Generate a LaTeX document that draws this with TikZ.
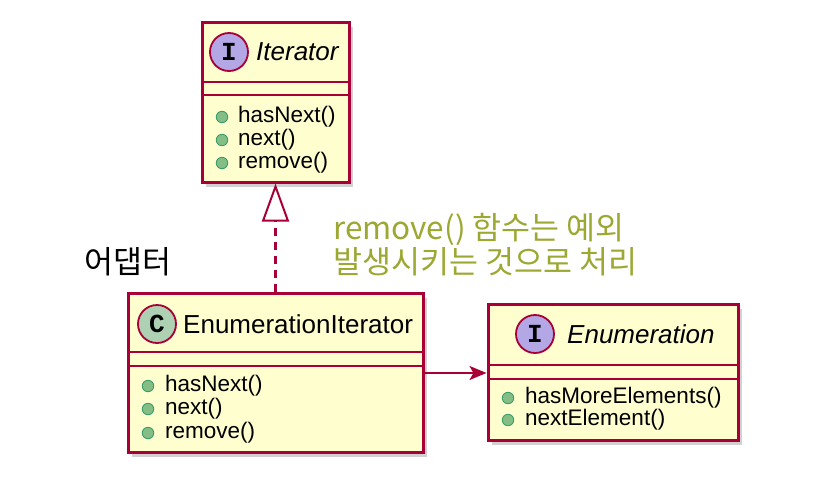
\documentclass[tikz,border=0pt]{standalone}
\usepackage{fontspec}
\setmainfont{Liberation Sans}
\newfontfamily\krfont{Noto Sans CJK KR}
\newfontfamily\monob{Liberation Mono}
\usetikzlibrary{arrows.meta,shadows}
\definecolor{umlfill}{HTML}{FEFECE}
\definecolor{umlline}{HTML}{A80036}
\definecolor{ifill}{HTML}{B4A7E5}
\definecolor{cfill}{HTML}{ADD1B2}
\definecolor{mfill}{HTML}{84BE84}
\definecolor{mline}{HTML}{038048}
\definecolor{note}{HTML}{9CA832}
\tikzset{
  x=1pt,y=1pt,
  umlbox/.style={draw=umlline, line width=3pt, fill=umlfill, inner sep=0pt,
     drop shadow={shadow xshift=4pt, shadow yshift=-5pt, opacity=0.3, fill=black!60}},
  sep/.style={draw=umlline, line width=2.2pt},
  badge/.style={circle, draw=umlline, line width=1.8pt, minimum size=38pt, inner sep=0pt,
     font=\monob\bfseries\fontsize{26}{26}\selectfont},
  bullet/.style={circle, draw=mline!80, line width=0.8pt, fill=mfill, minimum size=11.5pt, inner sep=0pt},
  meth/.style={anchor=west, inner sep=0pt, font=\fontsize{22.5}{22.5}\selectfont},
  cname/.style={anchor=west, inner sep=0pt, font=\fontsize{26}{26}\selectfont},
  iname/.style={anchor=west, inner sep=0pt, font=\itshape\fontsize{26}{26}\selectfont},
  kr/.style={inner sep=0pt, font=\krfont\fontsize{31.5}{34}\selectfont},
  rel/.style={draw=umlline, line width=2.1pt}
}
\begin{document}
\begin{tikzpicture}
\useasboundingbox (0,0) rectangle (830,-496);
% Iterator
\node[umlbox, minimum width=147pt, minimum height=160pt] (it) at (275.5,-102) {};
\draw[sep] (202,-82) -- (349,-82);
\draw[sep] (202,-95) -- (349,-95);
\node[badge, fill=ifill] (itb) at (229,-52) {I};
\node[iname] (itn) at (256,-52) {Iterator};
\node[bullet] (itm1) at (222,-117) {};
\node[meth] (itt1) at (238,-117) {hasNext()};
\node[bullet] (itm2) at (222,-140) {};
\node[meth] (itt2) at (238,-140) {next()};
\node[bullet] (itm3) at (222,-163) {};
\node[meth] (itt3) at (238,-163) {remove()};
% EnumerationIterator
\node[umlbox, minimum width=295pt, minimum height=159pt] (ei) at (275.5,-372.5) {};
\draw[sep] (128,-352) -- (423,-352);
\draw[sep] (128,-366) -- (423,-366);
\node[badge, fill=cfill] (eib) at (157,-324) {C};
\node[cname] (ein) at (183,-324) {EnumerationIterator};
\node[bullet] (eim1) at (148,-386) {};
\node[meth] (eit1) at (165,-386) {hasNext()};
\node[bullet] (eim2) at (148,-409) {};
\node[meth] (eit2) at (165,-409) {next()};
\node[bullet] (eim3) at (148,-433) {};
\node[meth] (eit3) at (165,-433) {remove()};
% Enumeration
\node[umlbox, minimum width=250pt, minimum height=136pt] (en) at (613,-372) {};
\draw[sep] (488,-365) -- (738,-365);
\draw[sep] (488,-379) -- (738,-379);
\node[badge, fill=ifill] (enb) at (535,-334) {I};
\node[iname] (enn) at (567,-334) {Enumeration};
\node[bullet] (enm1) at (508,-398) {};
\node[meth] (ent1) at (525,-398) {hasMoreElements()};
\node[bullet] (enm2) at (508,-420) {};
\node[meth] (ent2) at (525,-420) {nextElement()};
% relations
\draw[rel, dash pattern=on 8pt off 6pt, -{Triangle[open, length=38pt, width=27pt, line width=2pt]}]
  (ei.north) -- (it.south);
\draw[rel, -{Stealth[length=17pt, width=14pt, inset=4pt]}] (ei.east |- 0,-373) -- (en.west |- 0,-373);
% labels
\node[kr, anchor=west] (lab) at (84,-262) {어댑터};
\node[kr, anchor=west, text=note] (n1) at (333,-229) {remove() 함수는 예외};
\node[kr, anchor=west, text=note] (n2) at (333,-262) {발생시키는 것으로 처리};
\end{tikzpicture}
\end{document}
